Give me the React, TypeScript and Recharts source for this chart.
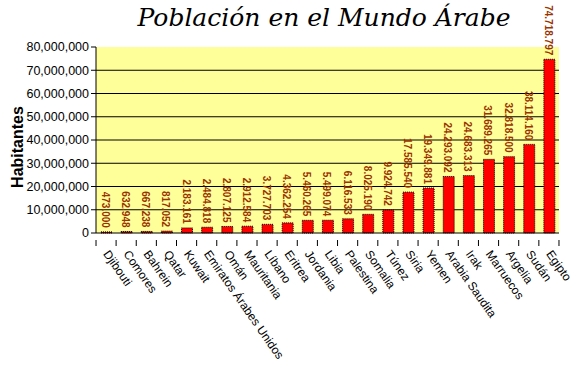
import { BarChart, Bar, XAxis, YAxis, CartesianGrid, LabelList } from 'recharts';

const countries = [
  'Djibouti', 'Comores', 'Bahrein', 'Qatar', 'Kuwait', 'Emiratos Árabes Unidos', 'Omán',
  'Mauritania', 'Líbano', 'Eritrea', 'Jordania', 'Libia', 'Palestina', 'Somalia', 'Túnez',
  'Siria', 'Yemen', 'Arabia Saudita', 'Irak', 'Marruecos', 'Argelia', 'Sudán', 'Egipto',
];

const population = [
  473000, 632948, 667238, 817052, 2183161, 2484818, 2807125,
  2912584, 3727703, 4362254, 5460265, 5499074, 6116533, 8025190, 9924742,
  17585540, 19349881, 24293092, 24683313, 31689265, 32818500, 38114160, 74718797,
];

const yTicks = [0, 10000000, 20000000, 30000000, 40000000, 50000000, 60000000, 70000000, 80000000];

const data = countries.map((name, i) => ({ name, value: population[i] }));

const withSep = (v: number, sep: string) => String(v).replace(/\B(?=(\d{3})+(?!\d))/g, sep);

const ValueLabel = (props: any) => {
  const { x, y, width, value } = props;
  const cx = x + width / 2 - 1;
  const ty = y - 4;
  return (
    <text
      x={cx}
      y={ty}
      transform={`rotate(90 ${cx} ${ty})`}
      textAnchor="end"
      dominantBaseline="central"
      fill="#993300"
      fontSize={10}
      fontWeight="bold"
      fontFamily="Liberation Sans, Arial, sans-serif"
    >
      {withSep(value, '.')}
    </text>
  );
};

const CountryTick = (props: any) => {
  const { x, y, payload, index } = props;
  const half = 462 / countries.length / 2;
  const tx = x + 4;
  const ty = y + 8;
  return (
    <g>
      {index === 0 && <line x1={x - half} y1={y - 1} x2={x - half} y2={y + 5} stroke="#000" />}
      <line x1={x + half} y1={y - 1} x2={x + half} y2={y + 5} stroke="#000" />
      <text
        x={tx}
        y={ty}
        transform={`rotate(55 ${tx} ${ty})`}
        textAnchor="start"
        dominantBaseline="hanging"
        fontSize={12}
        fill="#000"
        fontFamily="Liberation Sans, Arial, sans-serif"
      >
        {payload.value}
      </text>
    </g>
  );
};

export default function App() {
  return (
    <div style={{ position: 'absolute', left: 0, top: 0, width: 577, height: 367, background: '#fff' }}>
      <div
        style={{
          position: 'absolute',
          left: 0,
          top: 3,
          width: 648,
          textAlign: 'center',
          fontFamily: 'DejaVu Serif, serif',
          fontStyle: 'italic',
          fontSize: 25,
          color: '#000',
        }}
      >
        Población en el Mundo Árabe
      </div>
      <BarChart
        width={577}
        height={367}
        data={data}
        margin={{ top: 47, right: 18, left: 0, bottom: 0 }}
        barSize={11}
      >
        <CartesianGrid
          vertical={false}
          horizontalValues={[10000000, 20000000, 30000000, 40000000, 50000000, 60000000, 70000000]}
          stroke="#000"
          fill="#FFFF99"
          fillOpacity={1}
        />
        <XAxis
          dataKey="name"
          interval={0}
          height={134}
          tickLine={false}
          axisLine={{ stroke: '#000' }}
          tick={<CountryTick />}
        />
        <XAxis xAxisId="top" dataKey="name" orientation="top" height={0} tick={false} tickLine={false} axisLine={{ stroke: '#999' }} />
        <YAxis
          width={96}
          domain={[0, 80000000]}
          ticks={yTicks}
          interval={0}
          tickFormatter={(v: number) => withSep(v, ',')}
          tick={{ fill: '#000', fontSize: 12.5, fontFamily: 'Liberation Sans, Arial, sans-serif' }}
          tickLine={{ stroke: '#000' }}
          tickSize={5}
          axisLine={{ stroke: '#000' }}
          label={{
            content: () => (
              <text
                x={17}
                y={147}
                transform="rotate(-90 17 147)"
                textAnchor="middle"
                dominantBaseline="central"
                fontSize={16}
                fontWeight="bold"
                fontFamily="Liberation Sans, Arial, sans-serif"
                fill="#000"
              >
                Habitantes
              </text>
            ),
          }}
        />
        <YAxis yAxisId="right" orientation="right" width={0} domain={[0, 80000000]} tick={false} tickLine={false} axisLine={{ stroke: '#999' }} />
        <Bar dataKey="value" fill="#FF0000" stroke="#000" strokeDasharray="1 1" isAnimationActive={false}>
          <LabelList dataKey="value" content={<ValueLabel />} />
        </Bar>
      </BarChart>
    </div>
  );
}
